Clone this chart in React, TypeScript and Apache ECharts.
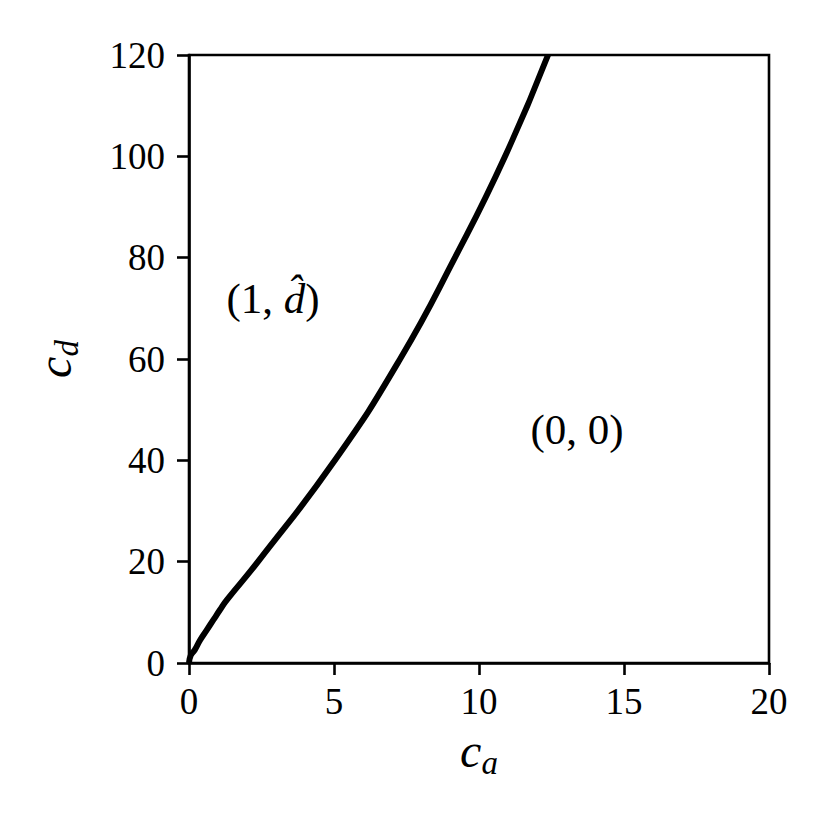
import React, { useEffect, useRef } from "react";
import * as echarts from "echarts";

const curveX = [0, 0.06, 0.2, 0.38, 0.61, 0.84, 1.07, 1.3, 2.38, 5.03, 7.28, 9.17, 10.9, 12.38];
const curveY = [0, 1.5, 2.6, 4.5, 6.5, 8.5, 10.5, 12.4, 20, 40, 60, 80, 100, 120];
const xTicks = [0, 5, 10, 15, 20];
const yTicks = [0, 20, 40, 60, 80, 100, 120];
const annotations = [
  { x: 2.9, y: 72, text: "{n|(1, }{i|d\u0302}{n|)}" },
  { x: 13.38, y: 46, text: "{n|(0, 0)}" },
];

const FONT = "Liberation Serif";

export default function App() {
  const ref = useRef<HTMLDivElement>(null);
  useEffect(() => {
    document.body.style.margin = "0";
    const chart = echarts.init(ref.current!, undefined, { renderer: "svg" });
    const axisLine = { show: true, lineStyle: { color: "#000", width: 2.6 } };
    const axisTick = { show: true, inside: false, length: 12, lineStyle: { color: "#000", width: 2.6 } };
    const nameRich = {
      i: { fontFamily: FONT, fontStyle: "italic", fontSize: 48, lineHeight: 58, color: "#000" },
      s: { fontFamily: FONT, fontStyle: "italic", fontSize: 33, lineHeight: 20, verticalAlign: "bottom", color: "#000" },
    };
    chart.setOption({
      animation: false,
      backgroundColor: "#fff",
      grid: {
        left: 189,
        top: 55,
        width: 580,
        height: 608,
        show: true,
        borderColor: "#000",
        borderWidth: 2.6,
        containLabel: false,
      },
      xAxis: {
        type: "value",
        min: xTicks[0],
        max: xTicks[xTicks.length - 1],
        interval: 5,
        axisLine,
        axisTick,
        splitLine: { show: false },
        axisLabel: { color: "#000", fontFamily: FONT, fontSize: 37, margin: 20 },
        name: "{i|c}{s|a}",
        nameLocation: "middle",
        nameGap: 58,
        nameTextStyle: { rich: nameRich },
      },
      yAxis: {
        type: "value",
        min: yTicks[0],
        max: yTicks[yTicks.length - 1],
        interval: 20,
        axisLine,
        axisTick,
        splitLine: { show: false },
        axisLabel: { color: "#000", fontFamily: FONT, fontSize: 37, margin: 24 },
        name: "{i|c}{s|d}",
        nameLocation: "middle",
        nameRotate: 90,
        nameGap: 106,
        nameTextStyle: { rich: nameRich },
      },
      series: [
        {
          type: "line",
          data: curveX.map((x, i) => [x, curveY[i]]),
          showSymbol: false,
          smooth: 0.5,
          lineStyle: { color: "#000", width: 6 },
          silent: true,
        },
        {
          type: "scatter",
          data: annotations.map((a) => ({ value: [a.x, a.y], label: { formatter: a.text } })),
          symbolSize: 0,
          silent: true,
          itemStyle: { opacity: 1 },
          label: {
            show: true,
            position: "inside",
            color: "#000",
            opacity: 1,
            rich: {
              n: { fontFamily: FONT, fontSize: 43, color: "#000" },
              i: { fontFamily: FONT, fontSize: 43, fontStyle: "italic", color: "#000" },
            },
          },
        },
      ],
    });
    return () => chart.dispose();
  }, []);
  return <div ref={ref} style={{ width: 830, height: 830 }} />;
}
